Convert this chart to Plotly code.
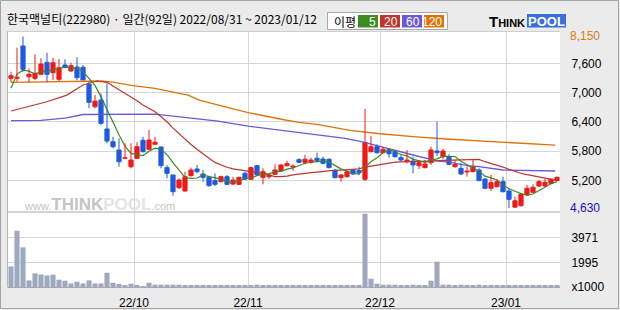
import plotly.graph_objects as go

# ---------------- data ----------------
title_text = "한국맥널티(222980) · 일간(92일) 2022/08/31 ~ 2023/01/12"

opens = [7292, 7292, 7954, 7325, 7292, 7374, 7620, 7407, 7272, 7565,
         7442, 7524, 7518, 7175, 6710, 6847, 6252, 5992, 5821, 5651,
         5479, 5651, 6020, 5836, 5938, 5883, 5459, 5309, 5049, 4980,
         5295, 5432, 5329, 5261, 5193, 5172, 5274, 5124, 5118, 5343,
         5220, 5500, 5261, 5274, 5323, 5398, 5500, 5473, 5623, 5569,
         5569, 5651, 5637, 5631, 5397, 5254, 5274, 5411, 5397, 5220,
         5787, 5889, 5766, 5815, 5787, 5664, 5582, 5596, 5500, 5459,
         5561, 5801, 5684, 5684, 5479, 5446, 5370, 5377, 5411, 5227,
         5036, 5069, 5172, 4980, 4650, 4679, 4898, 4954, 5083, 5083,
         5138, 5193]
highs = [7427, 7920, 8150, 7497, 7784, 7702, 7817, 7715, 7688, 7682,
         7612, 7723, 7565, 7222, 6950, 6984, 7190, 6094, 6061, 5959,
         5959, 5980, 6094, 6232, 6094, 5889, 5514, 5309, 5241, 5377,
         5459, 5514, 5411, 5274, 5343, 5295, 5309, 5274, 5274, 5377,
         5479, 5514, 5446, 5343, 5528, 5528, 5596, 5528, 5651, 5719,
         5663, 5766, 5685, 5651, 5432, 5329, 5391, 5425, 5479, 6662,
         6108, 5938, 5889, 5856, 5807, 5719, 5821, 5685, 5616, 5616,
         5889, 6402, 5842, 5733, 5616, 5549, 5479, 5630, 5446, 5241,
         5309, 5227, 5274, 5036, 4864, 4933, 5104, 5118, 5206, 5241,
         5241, 5274]
lows = [7210, 7222, 7427, 7210, 7257, 7360, 7210, 7257, 7237, 7497,
        7427, 7257, 7257, 6677, 6677, 6334, 5959, 5856, 5479, 5651,
        5446, 5637, 5774, 5821, 5924, 5446, 5241, 4884, 5022, 4966,
        5274, 5343, 5171, 5069, 5083, 5159, 5104, 5104, 5104, 5206,
        5206, 5295, 5118, 5227, 5309, 5391, 5479, 5397, 5549, 5528,
        5541, 5569, 5528, 5446, 5241, 5172, 5254, 5309, 5309, 5186,
        5774, 5746, 5753, 5664, 5664, 5582, 5549, 5343, 5432, 5446,
        5514, 5698, 5637, 5514, 5459, 5309, 5274, 5364, 5186, 5022,
        4980, 5056, 4952, 4630, 4640, 4659, 4884, 4946, 5056, 5069,
        5118, 5186]
closes = [7345, 7313, 7477, 7374, 7395, 7585, 7374, 7612, 7510, 7518,
          7550, 7305, 7257, 6800, 6824, 6369, 6006, 5889, 5581, 5663,
          5616, 5889, 5787, 6026, 5980, 5500, 5343, 4966, 5206, 5274,
          5411, 5377, 5261, 5090, 5118, 5274, 5118, 5206, 5261, 5227,
          5459, 5309, 5377, 5309, 5411, 5514, 5541, 5493, 5569, 5631,
          5616, 5602, 5549, 5459, 5254, 5309, 5377, 5329, 5356, 5972,
          5889, 5766, 5836, 5746, 5684, 5616, 5616, 5514, 5561, 5534,
          5821, 5766, 5801, 5528, 5528, 5329, 5391, 5479, 5193, 5036,
          5151, 5172, 4966, 4810, 4780, 4913, 5036, 5056, 5172, 5159,
          5220, 5261]
volumes = [1665, 4549, 3200, 533, 1099, 1018, 937, 994, 590, 509,
           291, 428, 291, 533, 291, 291, 1155, 347, 242, 162,
           267, 162, 81, 347, 186, 186, 186, 186, 186, 100,
           100, 100, 100, 100, 100, 100, 100, 100, 100, 100,
           100, 186, 100, 100, 100, 100, 100, 100, 100, 100,
           100, 100, 100, 100, 100, 100, 100, 100, 100, 5923,
           671, 267, 186, 186, 186, 100, 100, 186, 100, 100,
           509, 2044, 186, 186, 100, 186, 100, 100, 186, 100,
           100, 100, 100, 100, 100, 100, 100, 100, 100, 100,
           100, 100]

# moving averages: MA5/MA20 need closes from before the window for the first days,
# those leading values are read off the picture
ma5_head = [7090, 7380, 7460, 7440]
ma20_head_idx = [0, 3, 6, 9.3, 12, 14.3, 16, 17.6]
ma20_head_val = [6621, 6715, 6812, 6948, 7154, 7237, 7210, 7087]
ma60_idx = [0, 5, 9, 12, 24, 27, 30, 34.5, 39.5, 45.7, 51.2, 55.7, 58.4, 60.5,
            62.5, 65, 67, 71, 73, 76.5, 78, 82, 86, 90.7]
ma60_val = [6425, 6428, 6475, 6550, 6556, 6515, 6480, 6416, 6313, 6211, 6129, 6061,
            5992, 5924, 5850, 5780, 5719, 5600, 5575, 5493, 5479, 5411, 5397, 5391]
ma120_idx = [0, 8, 15, 17, 20, 24, 27, 29.5, 31.5, 34.5, 39.5, 45.7, 48, 51, 56.5,
             61.5, 65, 67, 72.5, 78, 83.5, 90.7]
ma120_val = [7210, 7230, 7237, 7212, 7145, 7087, 7018, 6945, 6840, 6744, 6590, 6437,
             6390, 6349, 6225, 6155, 6115, 6094, 6047, 6012, 5972, 5920]

month_labels = ["22/10", "22/11", "22/12", "23/01"]
month_start_index = [21, 40, 62, 83]
price_ticks = [5200, 5800, 6400, 7000, 7600]
price_max_label = 8150
price_min_label = 4630
volume_ticks = [0, 1995, 3971]
volume_tick_text = ["x1000", "1995", "3971"]
ma_names = ["5", "20", "60", "120"]

# ---------------- styling ----------------
RED = "#ee1a1a"
BLUE = "#1f5bdc"
VOLC = "#9ea8c0"
MA_COLORS = ["#3c8c22", "#c0362c", "#6a5ad8", "#de7408"]
GRID = "#d6d6d6"
BG = "#ebebeb"
FONT = "Liberation Sans"
KFONT = "Noto Sans CJK KR"

N = len(closes)
idx = list(range(N))

# derived moving averages
ma5 = ma5_head + [sum(closes[i - 4:i + 1]) / 5 for i in range(4, N)]
ma5_x = idx
ma20_x = ma20_head_idx + list(range(19, N))
ma20_y = ma20_head_val + [sum(closes[i - 19:i + 1]) / 20 for i in range(19, N)]

# pixel helpers for decorations outside the plot area
L, R, T, B = 8, 560, 31, 287
PW, PH = R - L, B - T


def px(x):
    return (x - L) / PW


def py(y):
    return (B - y) / PH


split = py(212)

fig = go.Figure()

# moving averages (behind candles)
fig.add_trace(go.Scatter(x=ma120_idx, y=ma120_val, mode="lines", line=dict(color=MA_COLORS[3], width=1.3),
                         xaxis="x2", yaxis="y2", hoverinfo="skip"))
fig.add_trace(go.Scatter(x=ma60_idx, y=ma60_val, mode="lines", line=dict(color=MA_COLORS[2], width=1.3),
                         xaxis="x2", yaxis="y2", hoverinfo="skip"))
fig.add_trace(go.Scatter(x=ma20_x, y=ma20_y, mode="lines", line=dict(color=MA_COLORS[1], width=1.2),
                         xaxis="x2", yaxis="y2", hoverinfo="skip"))
fig.add_trace(go.Scatter(x=ma5_x, y=ma5, mode="lines", line=dict(color=MA_COLORS[0], width=1.2),
                         xaxis="x2", yaxis="y2", hoverinfo="skip"))

# candles: wicks + bodies
for up, col in ((True, RED), (False, BLUE)):
    sel = [i for i in idx if (closes[i] >= opens[i]) == up]
    wx, wy = [], []
    for i in sel:
        wx += [i, i, None]
        wy += [lows[i], highs[i], None]
    fig.add_trace(go.Scatter(x=wx, y=wy, mode="lines", line=dict(color=col, width=1),
                             xaxis="x2", yaxis="y2", hoverinfo="skip"))
    fig.add_trace(go.Bar(x=sel, base=[min(opens[i], closes[i]) for i in sel],
                         y=[abs(closes[i] - opens[i]) for i in sel], width=0.7,
                         marker=dict(color=col, line=dict(color=col, width=1)),
                         xaxis="x2", yaxis="y2", hoverinfo="skip"))

# volume
fig.add_trace(go.Bar(x=idx, y=volumes, width=0.85, marker=dict(color=VOLC, line=dict(width=0)),
                     xaxis="x", yaxis="y", hoverinfo="skip"))

tickvals_x = [k - 0.5 for k in month_start_index]
axis_font = dict(family=FONT, size=12, color="black")

fig.update_layout(
    template="none",
    width=620, height=310,
    margin=dict(l=L, r=620 - R, t=T, b=310 - B, autoexpand=False, pad=0),
    paper_bgcolor=BG, plot_bgcolor="white",
    showlegend=False, barmode="overlay",
    xaxis=dict(domain=[0, 1], anchor="y", range=[-0.5, N - 0.5], tickvals=tickvals_x, ticktext=month_labels,
               showgrid=True, gridcolor=GRID, gridwidth=1, zeroline=False, ticks="outside", ticklen=5,
               tickcolor="rgba(0,0,0,0)", tickfont=axis_font, showline=False, automargin=False),
    xaxis2=dict(domain=[0, 1], anchor="y2", matches="x", tickvals=tickvals_x, showticklabels=False,
                showgrid=True, gridcolor=GRID, gridwidth=1, zeroline=False, showline=False, ticks="",
                automargin=False),
    yaxis=dict(domain=[0, split], side="right", range=[0, 6060], tickvals=volume_ticks,
               ticktext=volume_tick_text, showgrid=True, gridcolor=GRID, zeroline=False, showline=False,
               ticks="outside", ticklen=8, tickcolor="rgba(0,0,0,0)", tickfont=axis_font, automargin=False),
    yaxis2=dict(domain=[split, 1], side="right", range=[4549.7, 8262.6], tickvals=price_ticks,
                ticktext=[f"{v:,}" for v in price_ticks], showgrid=True, gridcolor=GRID, zeroline=False,
                showline=False, ticks="outside", ticklen=8, tickcolor="rgba(0,0,0,0)", tickfont=axis_font,
                automargin=False),
)

shapes = []
# outer frame
shapes.append(dict(type="rect", xref="paper", yref="paper", x0=px(0.5), x1=px(618.5), y0=py(308.5), y1=py(0.5),
                   line=dict(color="#a4a4a4", width=1), fillcolor="rgba(0,0,0,0)", layer="above"))
# panel borders
shapes.append(dict(type="line", xref="paper", yref="paper", x0=px(7.5), x1=px(7.5), y0=py(287), y1=py(31),
                   line=dict(color="#b4b4b4", width=1), layer="above"))
shapes.append(dict(type="line", xref="paper", yref="paper", x0=px(7.5), x1=px(560), y0=py(31.5), y1=py(31.5),
                   line=dict(color="#cfcfcf", width=1), layer="above"))
shapes.append(dict(type="line", xref="paper", yref="paper", x0=px(7.5), x1=px(560), y0=split, y1=split,
                   line=dict(color="#a8a8a8", width=1), layer="above"))
shapes.append(dict(type="line", xref="paper", yref="paper", x0=px(7.5), x1=px(560), y0=py(287.5), y1=py(287.5),
                   line=dict(color="#a8a8a8", width=1), layer="above"))
# legend box
shapes.append(dict(type="rect", xref="paper", yref="paper", x0=px(327.5), x1=px(447.5), y0=py(29.5), y1=py(12.5),
                   line=dict(color="#a8a8a8", width=1), fillcolor="white"))
box_x = [358, 380, 402, 424]
for bx, c in zip(box_x, MA_COLORS):
    shapes.append(dict(type="rect", xref="paper", yref="paper", x0=px(bx), x1=px(bx + 20), y0=py(27.5), y1=py(15),
                       line=dict(width=0), fillcolor=c))
# THINKPOOL logo blue box
shapes.append(dict(type="rect", xref="paper", yref="paper", x0=px(527), x1=px(566), y0=py(27.5), y1=py(14),
                   line=dict(width=0), fillcolor="#3a6edb"))
fig.update_layout(shapes=shapes)

ann = []
ann.append(dict(xref="paper", yref="paper", x=px(5), y=py(18.5), xanchor="left", yanchor="middle",
                text=title_text, showarrow=False, font=dict(family=KFONT, size=12, color="black")))
ann.append(dict(xref="paper", yref="paper", x=px(332), y=py(21), xanchor="left", yanchor="middle",
                text="이평", showarrow=False, font=dict(family=KFONT, size=12, color="black")))
for bx, name in zip(box_x, ma_names):
    ann.append(dict(xref="paper", yref="paper", x=px(bx + 20), y=py(21.5), xanchor="right", yanchor="middle",
                    text=name, showarrow=False, font=dict(family=FONT, size=12, color="white")))
ann.append(dict(xref="paper", yref="paper", x=px(527), y=py(21), xanchor="right", yanchor="middle",
                text="<b>T<span style='font-size:11px'>HINK</span></b>", showarrow=False,
                font=dict(family=FONT, size=15, color="black")))
ann.append(dict(xref="paper", yref="paper", x=px(546.5), y=py(21), xanchor="center", yanchor="middle",
                text="<b>POOL</b>", showarrow=False, font=dict(family=FONT, size=13, color="white")))
# watermark
ann.append(dict(xref="paper", yref="paper", x=px(22), y=py(204), xanchor="left", yanchor="middle",
                text="www.<span style='font-size:17px'><b>THINK</b></span>"
                     "<span style='font-size:17px;color:#e4e4e4'><b>POOL</b></span>.com",
                showarrow=False, font=dict(family=FONT, size=11, color="#c4c4c4")))
# extreme price labels
ann.append(dict(xref="paper", yref="y2", x=1, y=price_max_label, xanchor="left", yanchor="middle", xshift=8,
                text=f"{price_max_label:,}", showarrow=False, font=dict(family=FONT, size=12, color="#e07a10")))
ann.append(dict(xref="paper", yref="y2", x=1, y=price_min_label, xanchor="left", yanchor="middle", xshift=8,
                text=f"{price_min_label:,}", showarrow=False, font=dict(family=FONT, size=12, color="#1414c8")))
fig.update_layout(annotations=ann)

fig.write_html("out.html")
